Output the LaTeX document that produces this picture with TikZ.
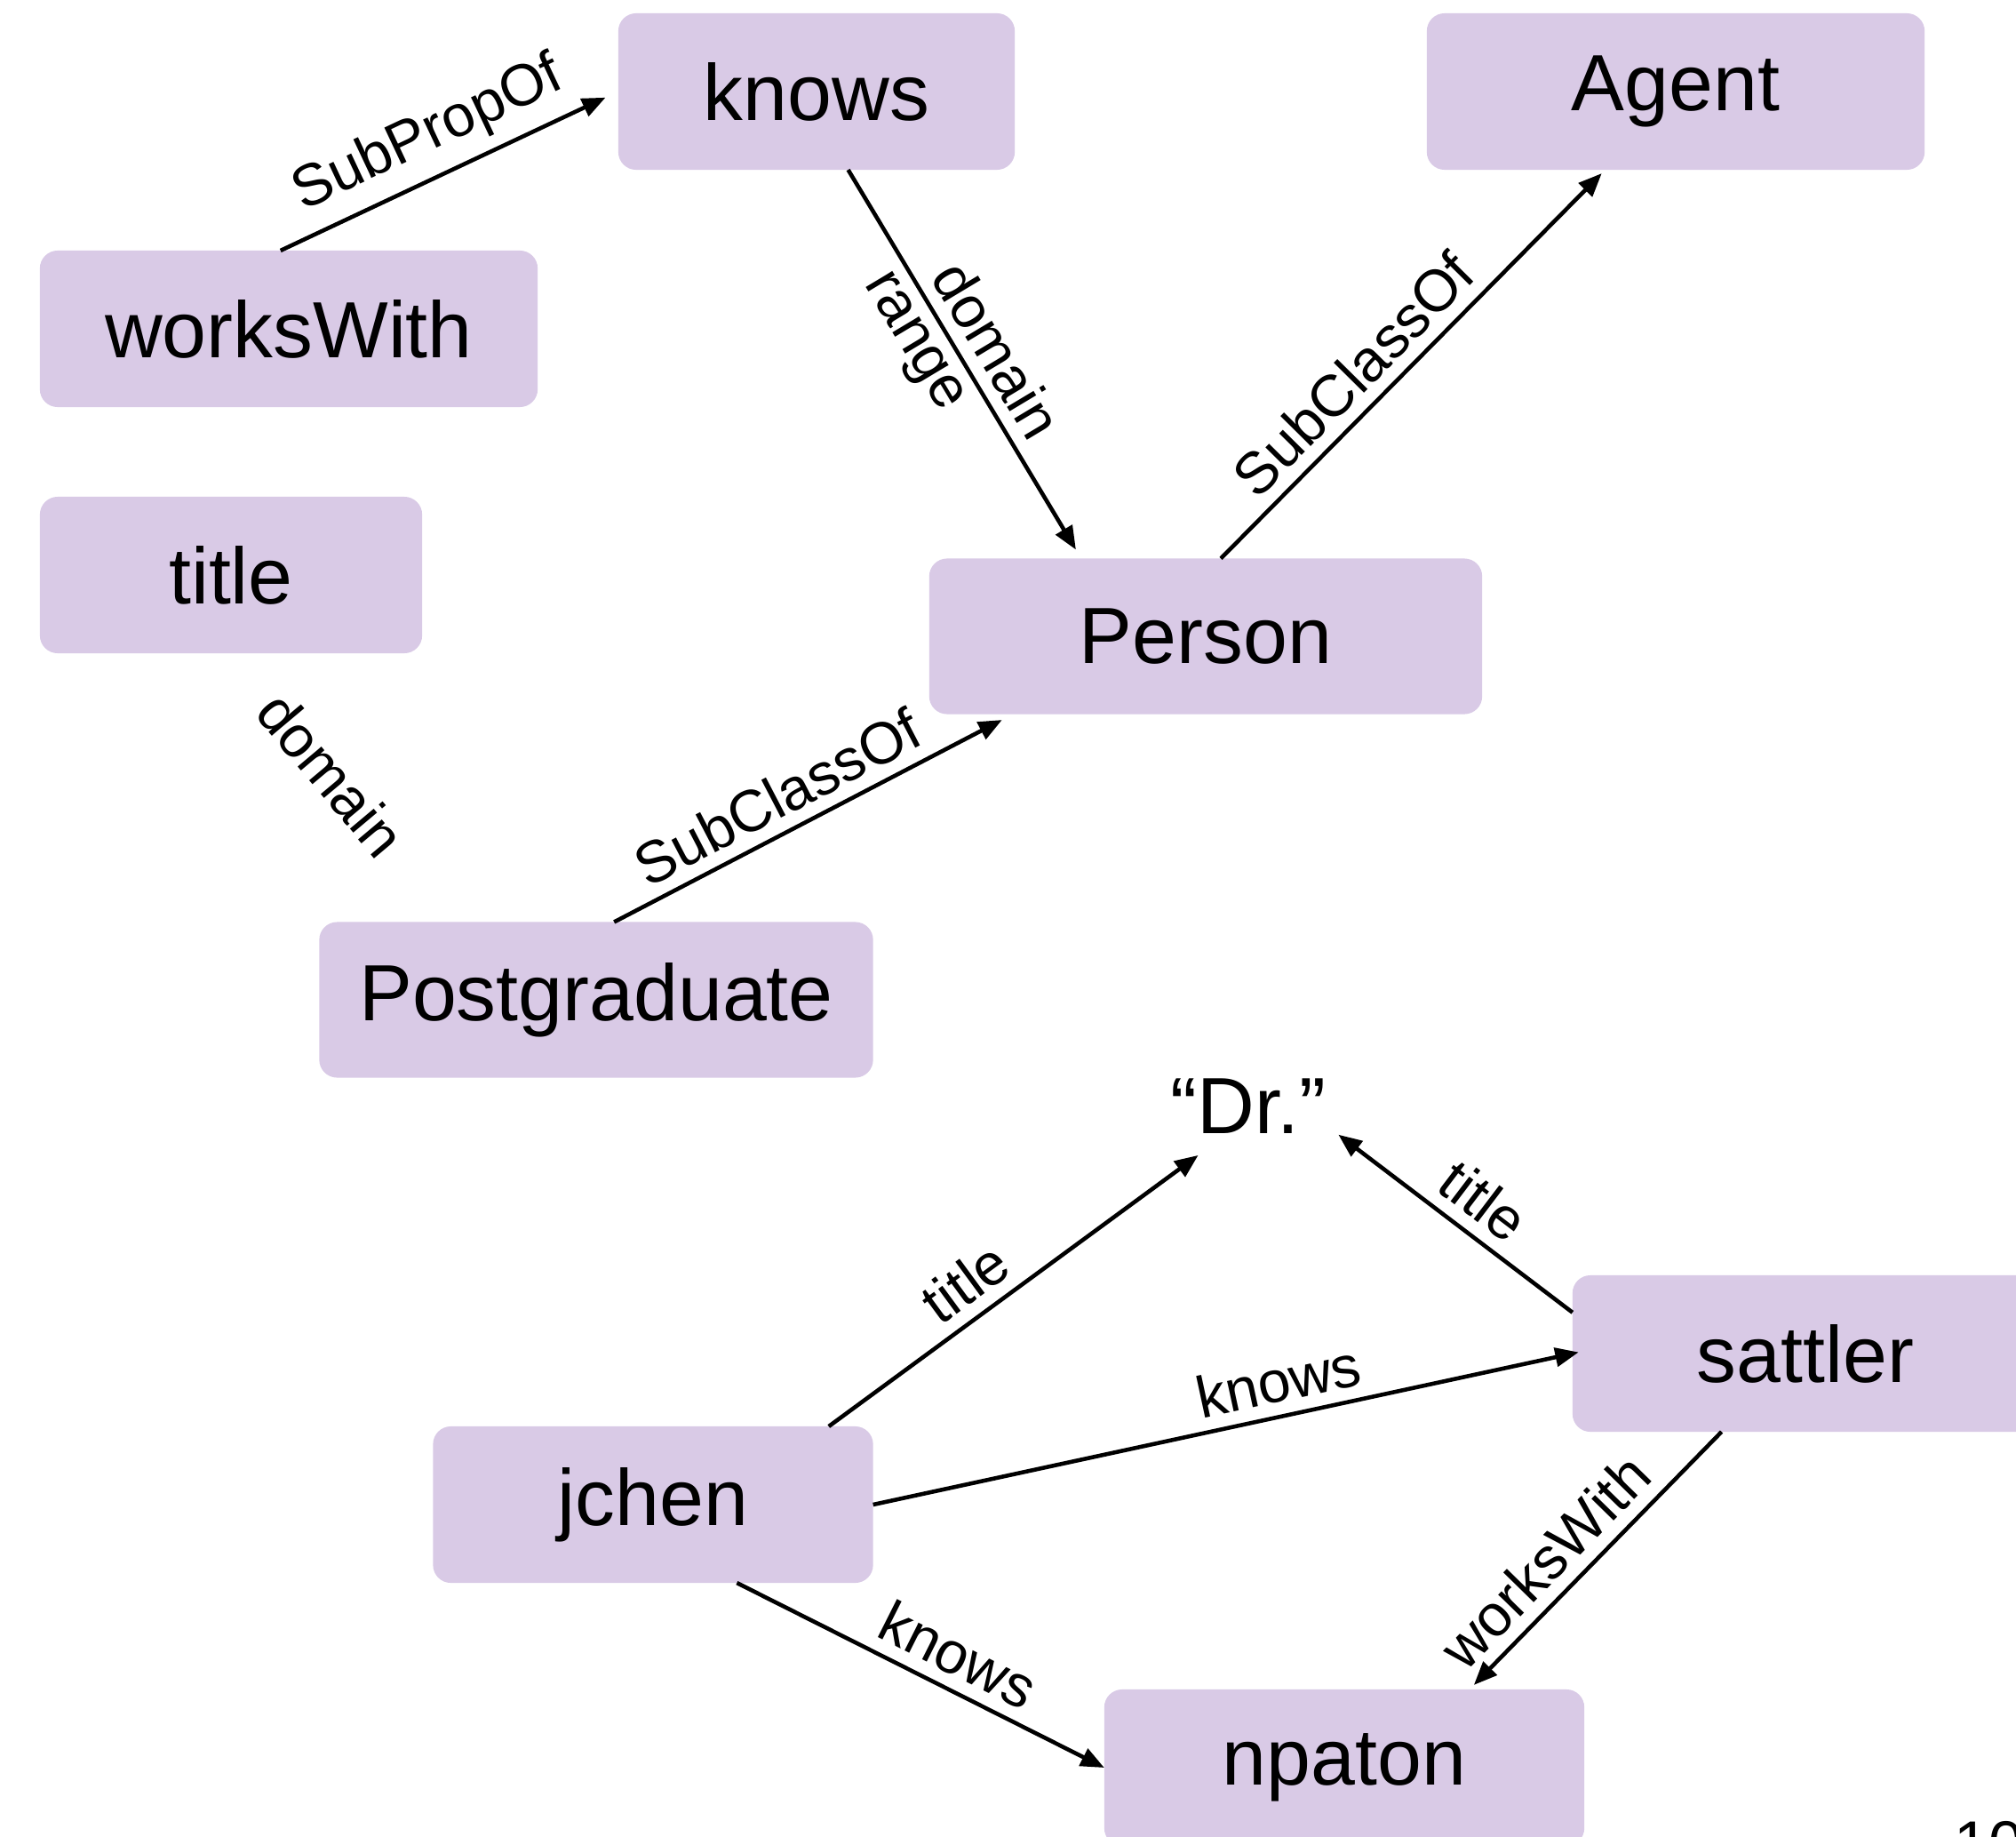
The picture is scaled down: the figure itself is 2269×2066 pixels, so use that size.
\documentclass[tikz,border=0pt]{standalone}
\usepackage{fontspec}
\setmainfont{Liberation Sans}
\usetikzlibrary{arrows.meta}
\definecolor{boxfill}{RGB}{217,202,230}
\begin{document}
\begin{tikzpicture}[x=0.01cm, y=-0.01cm,
  box/.style={fill=boxfill, rounded corners=5.7pt, outer sep=0pt, inner sep=0pt,
              minimum height=1.76cm, font=\fontsize{25.5}{30}\selectfont},
  lbl/.style={font=\fontsize{18.8}{22}\selectfont, inner sep=3.8pt},
  link/.style={line width=1.3pt, -{Triangle[length=7.5pt,width=6pt]}},
]
\useasboundingbox (0,0) rectangle (2269,2066);
\clip (0,0) rectangle (2269,2066);

% schema level
\node[box, minimum width=4.46cm] (knows) at (919,103) {knows};
\node[box, minimum width=5.60cm] (agent) at (1886,103) {Agent};
\node[box, minimum width=5.60cm] (workswith) at (325,370) {worksWith};
\node[box, minimum width=4.30cm] (title) at (260,647) {title};
\node[box, minimum width=6.22cm, minimum height=1.75cm] (person) at (1357,716) {Person};
\node[box, minimum width=6.23cm, minimum height=1.75cm] (postgrad) at (671,1125) {Postgraduate};

% instance level
\node[minimum width=1.9cm, minimum height=1.0cm, inner sep=0pt,
      font=\fontsize{25.5}{30}\selectfont] (dr) at (1405,1245) {“Dr.”};
\node[box, minimum width=4.95cm] (jchen) at (735,1693) {jchen};
\node[box, minimum width=5.24cm] (sattler) at (2032,1523) {sattler};
\node[box, minimum width=5.40cm] (npaton) at (1513,1989) {npaton};

% loose label and page number
\node[lbl, rotate=-50] (domlbl) at (373,871) {domain};
\node[anchor=base west, inner sep=0pt, font=\fontsize{20}{24}\selectfont] (pagenum) at (2199,2098) {10};

% schema relations
\draw[link, shorten >=4.5pt] (workswith.96.6) -- node[lbl, sloped, above, pos=0.49] {SubPropOf} (knows.west);
\draw[link, shorten >=3.3pt] (knows.-68.3)
  -- node[lbl, sloped, above, pos=0.51] {domain}
     node[lbl, sloped, below, pos=0.40] {range} (person.148.6);
\draw[link, shorten >=1.6pt] (person.79.7) -- node[lbl, sloped, above, pos=0.41] {SubClassOf} (agent.-132.3);
\draw[link, shorten >=4pt] (postgrad.77.7) -- node[lbl, sloped, above, pos=0.45] {SubClassOf} (person.-158.4);

% instance relations
\draw[link, shorten >=2pt] (jchen.24.4) -- node[lbl, sloped, above, pos=0.42] {title} (dr.225.6);
\draw[link, shorten >=2pt] (sattler.170.5) -- node[lbl, sloped, above, pos=0.46] {title} (dr.-16.4);
\draw[link, shorten >=-2pt] (jchen.east) -- node[lbl, sloped, above, pos=0.59] {knows} (sattler.west);
\draw[link] (jchen.-43.1) -- node[lbl, sloped, above, pos=0.56] {knows} (npaton.west);
\draw[link, shorten >=2pt] (sattler.-137.8) -- node[lbl, sloped, above, pos=0.60] {worksWith} (npaton.32.5);
\end{tikzpicture}
\end{document}
